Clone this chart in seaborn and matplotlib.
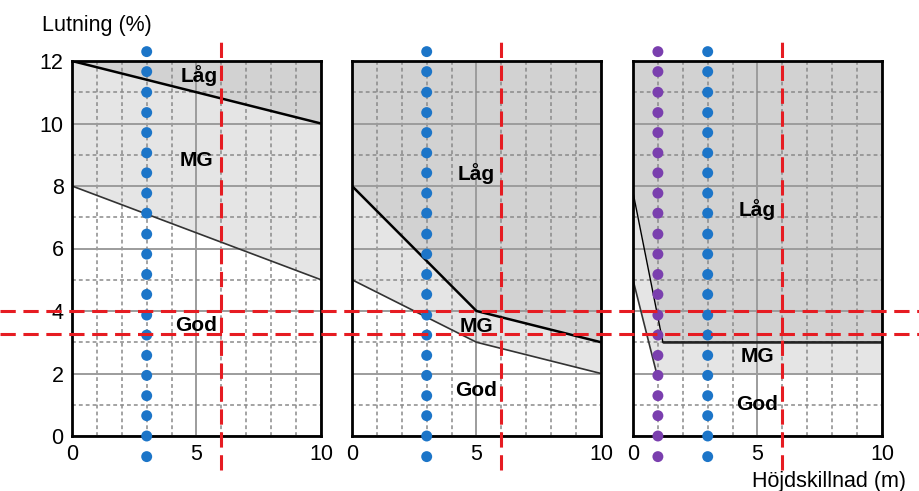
import numpy as np
import pandas as pd
import seaborn as sns
import matplotlib.pyplot as plt

# --- data ---
x_ticks = [0, 5, 10]
y_ticks = [0, 2, 4, 6, 8, 10, 12]

# class boundaries per panel (upper = Låg/MG, lower = MG/God)
upper_x = [[0, 10], [0, 5, 10], [0, 1.2, 10]]
upper_y = [[12, 10], [8, 4, 3], [7.8, 3, 3]]
lower_x = [[0, 10], [0, 5, 10], [0, 0.95, 10]]
lower_y = [[8, 5], [5, 3, 2], [5, 2, 2]]

labels = ["Låg", "MG", "God"]
label_x = [[5.1, 5.0, 5.0], [5.0, 5.0, 5.0], [5.0, 5.0, 5.0]]
label_y = [[11.55, 8.8, 3.55], [8.4, 3.5, 1.45], [7.25, 2.55, 1.0]]

dot_y = [12.30, 11.66, 11.00, 10.35, 9.71, 9.06, 8.42, 7.77, 7.13, 6.46, 5.82,
         5.17, 4.53, 3.87, 3.23, 2.58, 1.94, 1.29, 0.65, 0.00, -0.66]
blue_x = 3
purple_x = 1
red_x = 6
red_y = [4, 3.25]

sns.set_style("white")
plt.rcParams['font.family'] = ['Liberation Sans', 'DejaVu Sans']
plt.rcParams['text.color'] = "black"
plt.rcParams['xtick.color'] = "black"
plt.rcParams['ytick.color'] = "black"

col_lag = "#d2d2d2"
col_mg = "#e5e5e5"
blue = "#1c75c8"
purple = "#7a3fae"
red = "#e61c22"

fig = plt.figure(figsize=(9.2, 4.91), dpi=100)
bottom, height = 1 - 436 / 491, 375 / 491
lefts = [72 / 920, 352 / 920, 633 / 920]
width = 249 / 920

xs = np.linspace(0, 10, 401)
axes = []
for i, left in enumerate(lefts):
    ax = fig.add_axes([left, bottom, width, height])
    axes.append(ax)
    up = np.interp(xs, upper_x[i], upper_y[i])
    lo = np.interp(xs, lower_x[i], lower_y[i])
    ax.fill_between(xs, up, 12, color=col_lag, lw=0, zorder=0.8)
    ax.fill_between(xs, lo, up, color=col_mg, lw=0, zorder=0.8)

    ax.set_xlim(0, 10)
    ax.set_ylim(0, 12)
    ax.set_xticks(x_ticks)
    ax.set_yticks(y_ticks)
    ax.set_xticks([1, 2, 3, 4, 6, 7, 8, 9], minor=True)
    ax.set_yticks([1, 3, 5, 7, 9, 11], minor=True)
    ax.set_axisbelow('line')
    ax.grid(which='major', color="#9c9c9c", lw=1.4, ls='-')
    ax.grid(which='minor', color="#8a8a8a", lw=1.1, ls=(0, (2.5, 2)))
    ax.tick_params(which='both', length=0, labelsize=15.5, pad=6)
    if i > 0:
        ax.set_yticklabels([])
    for sp in ax.spines.values():
        sp.set_color("black")
        sp.set_linewidth(2)

    bx = pd.DataFrame({"x": upper_x[i], "y": upper_y[i]})
    sns.lineplot(data=bx, x="x", y="y", ax=ax, color="black",
                 lw=1.8 if i < 2 else 1.0, sort=False, estimator=None, zorder=2)
    if i == 2:
        ax.plot(upper_x[i][1:], upper_y[i][1:], color="#222222", lw=1.8, zorder=2)
    lx = pd.DataFrame({"x": lower_x[i][:2] if i == 2 else lower_x[i],
                       "y": lower_y[i][:2] if i == 2 else lower_y[i]})
    sns.lineplot(data=lx, x="x", y="y", ax=ax, color="#333333", lw=1.2,
                 sort=False, estimator=None, zorder=2)

    for t, tx, ty in zip(labels, label_x[i], label_y[i]):
        ax.text(tx, ty, t, ha="center", va="center", fontsize=15,
                fontweight="bold", color="black", zorder=3)

    ax.plot([red_x, red_x], [-1.1, 12.75], color=red, lw=2.2,
            dashes=(5, 2.5), clip_on=False, zorder=4)

    dots = pd.DataFrame({"x": [blue_x] * len(dot_y), "y": dot_y})
    sns.scatterplot(data=dots, x="x", y="y", ax=ax, color=blue, s=62,
                    edgecolor="none", clip_on=False, zorder=5)
    if i == 2:
        pdots = pd.DataFrame({"x": [purple_x] * len(dot_y), "y": dot_y})
        sns.scatterplot(data=pdots, x="x", y="y", ax=ax, color=purple, s=62,
                        edgecolor="none", clip_on=False, zorder=5)
    ax.set_xlabel("")
    ax.set_ylabel("")

# horizontal red lines across the whole figure
over = fig.add_axes([0, bottom, 1, height], zorder=10)
over.set_xlim(0, 1)
over.set_ylim(0, 12)
over.axis("off")
over.patch.set_alpha(0)
for ry in red_y:
    over.axhline(ry, color=red, lw=2.2, dashes=(5, 2.5))

fig.text(42 / 920, 1 - 25 / 491, "Lutning (%)", fontsize=15.5, ha="left", va="center")
fig.text(906 / 920, 1 - 481 / 491, "Höjdskillnad (m)", fontsize=15.5,
         ha="right", va="center")

fig.savefig("out.png", dpi=100)
